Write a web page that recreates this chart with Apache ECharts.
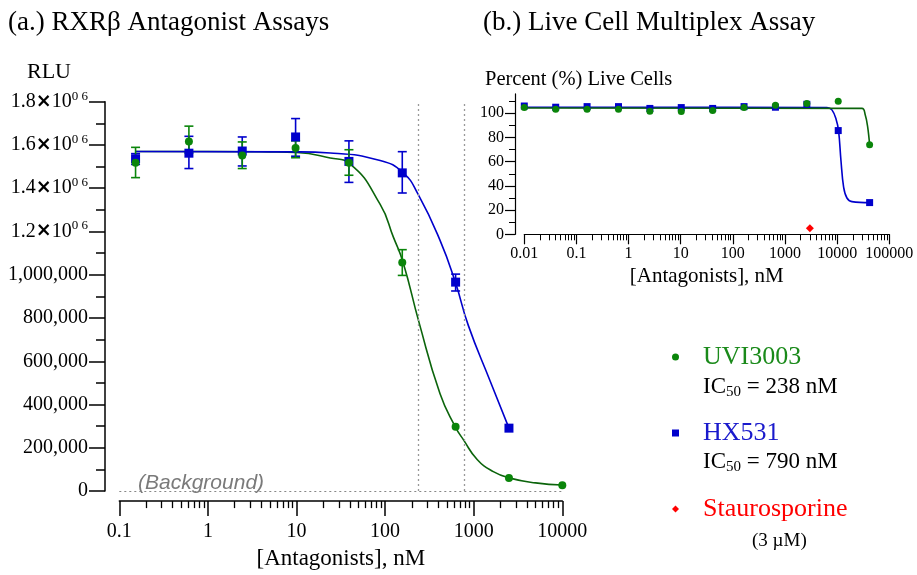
<!DOCTYPE html>
<html><head><meta charset="utf-8">
<script src="https://cdn.jsdelivr.net/npm/echarts@6/dist/echarts.min.js"></script>
<style>html,body{margin:0;padding:0;background:#fff}#c{width:917px;height:575px}</style>
</head><body><div id="c"></div>
<script>
// ---------- (a.) RXRbeta antagonist assay ----------
const rlu_conc = [0.1526, 0.6104, 2.441, 9.766, 39.06, 156.25, 625, 2500, 10000];
const uvi_rlu  = [1518000, 1616000, 1551000, 1586000, 1518000, 1057000, 297000, 60000, 27000];
const uvi_lo   = [1449000, 1563000, 1491000, 1541000, 1460000, 997000, null, null, null];
const uvi_hi   = [1589000, 1687000, 1614000, 1619000, 1578000, 1116000, null, null, null];
const hx_conc  = [0.1526, 0.6104, 2.441, 9.766, 39.06, 156.25, 625, 2500];
const hx_rlu   = [1536000, 1562000, 1572000, 1637000, 1524000, 1471000, 966000, 291000];
const hx_lo    = [1510000, 1491000, 1503000, 1548000, 1427000, 1378000, 925000, null];
const hx_hi    = [1560000, 1640000, 1637000, 1722000, 1619000, 1569000, 1003000, null];
// fitted curves
const uviFit_x = [0.1526, 1, 5, 10, 24, 40, 88, 124, 160, 241, 417, 620, 764, 1100, 1664, 2560, 5000, 10000];
const uviFit_y = [1570000, 1570000, 1568000, 1565000, 1540000, 1513000, 1325000, 1174000, 1056000, 781000, 450000, 297000, 238000, 145000, 90000, 60000, 38000, 28000];
const hxFit_x  = [0.1526, 10, 24, 88, 160, 237, 417, 620, 869, 1528, 2500];
const hxFit_y  = [1570000, 1568000, 1563000, 1528000, 1471000, 1370000, 1159000, 966000, 766000, 510000, 291000];
const ic50_lines = [238, 790];
const background_level = 0;
const rluTicks = [0, 200000, 400000, 600000, 800000, 1000000, 1200000, 1400000, 1600000, 1800000];
const rluMinor = [100000, 300000, 500000, 700000, 900000, 1100000, 1300000, 1500000, 1700000];

// ---------- (b.) live cell multiplex ----------
const live_conc = [0.01, 0.04, 0.16, 0.64, 2.56, 10.24, 40.96, 163.84, 655.36, 2621.44, 10485.76, 41943.04];
const hx_live   = [106, 105, 105.5, 105.5, 104, 104.7, 104, 105.5, 105, 107.4, 85.7, 26.2];
const uvi_live  = [104.7, 103.3, 103.3, 103.3, 101.7, 101.4, 102.2, 104.7, 106.6, 108, 110, 74];
const hxLiveFit_x  = [0.01, 6370, 7940, 9620, 10640, 11830, 13300, 15400, 19200, 41943.04];
const hxLiveFit_y  = [105, 104.7, 102.8, 94.5, 85.7, 61, 39, 30, 27, 26.2];
const uviLiveFit_x = [0.01, 29900, 34600, 38400, 41943.04];
const uviLiveFit_y = [104.3, 104, 98.6, 89, 74];
const stauro_conc = [3000];
const stauro_live = [5];
const liveTicks = [0, 20, 40, 60, 80, 100];
const liveMinor = [10, 30, 50, 70, 90, 110];

// minor tick positions (2..9 x each decade), in log10 units for a helper tick-only axis
function minorLog10(fromExp, toExp) {
  const out = [];
  for (let e = fromExp; e < toExp; e++) for (let k = 2; k <= 9; k++) out.push(e + Math.log10(k));
  return out;
}
const zip = (a, b) => a.map((v, i) => [v, b[i]]);
const bars = (x, lo, hi) => x.map((v, i) => [v, lo[i], hi[i]]).filter(r => r[1] != null);

const SERIF = "'Liberation Serif', 'Times New Roman', serif";
const GREEN = '#0a850a', GREENLINE = '#0b640b', BLUE = '#0000cc', RED = '#ff0000';

function errRender(color) {
  return function (params, api) {
    const x = api.value(0);
    const a = api.coord([x, api.value(1)]);
    const b = api.coord([x, api.value(2)]);
    const w = 4.5;
    const st = { stroke: color, lineWidth: 1.6 };
    return { type: 'group', children: [
      { type: 'line', shape: { x1: a[0], y1: a[1], x2: b[0], y2: b[1] }, style: st },
      { type: 'line', shape: { x1: a[0] - w, y1: a[1], x2: a[0] + w, y2: a[1] }, style: st },
      { type: 'line', shape: { x1: b[0] - w, y1: b[1], x2: b[0] + w, y2: b[1] }, style: st }
    ]};
  };
}

const chart = echarts.init(document.getElementById('c'), null, { renderer: 'canvas' });
const line = (w) => ({ show: true, onZero: false, lineStyle: { color: '#000', width: w } });
const noLine = { show: false, onZero: false };
const subRich = { sub: { fontSize: 15, fontFamily: SERIF, verticalAlign: 'bottom', lineHeight: 14 } };

const option = {
  animation: false,
  backgroundColor: '#fff',
  textStyle: { fontFamily: SERIF, color: '#000' },
  grid: [
    { left: 119.3, right: 354.7, top: 101.7, bottom: 75.7 },
    { left: 524.3, right: 27.7, top: 93.9, bottom: 340.7 }
  ],
  xAxis: [
    { type: 'log', gridIndex: 0, min: 0.1, max: 10000, logBase: 10, offset: 10, position: 'bottom',
      axisLine: line(1.5), splitLine: { show: false },
      axisTick: { show: true, length: 15, lineStyle: { color: '#000', width: 1.5 } },
      axisLabel: { fontSize: 20, fontFamily: SERIF, color: '#000', margin: 21, formatter: v => String(v) },
      name: '[Antagonists], nM', nameLocation: 'middle', nameGap: 42,
      nameTextStyle: { fontSize: 23, fontFamily: SERIF, color: '#000' } },
    { type: 'value', gridIndex: 0, min: -1, max: 4, offset: 10, position: 'bottom',
      axisLine: noLine, splitLine: { show: false }, axisLabel: { show: false },
      axisTick: { show: true, length: 7, customValues: minorLog10(-1, 4), lineStyle: { color: '#000', width: 1.3 } } },
    { type: 'log', gridIndex: 1, min: 0.01, max: 100000, logBase: 10, offset: 0, position: 'bottom',
      axisLine: line(1.2), splitLine: { show: false },
      axisTick: { show: true, length: 10, lineStyle: { color: '#000', width: 1.2 } },
      axisLabel: { fontSize: 16, fontFamily: SERIF, color: '#000', margin: 11, formatter: v => String(v) },
      name: '[Antagonists], nM', nameLocation: 'middle', nameGap: 32,
      nameTextStyle: { fontSize: 21, fontFamily: SERIF, color: '#000' } },
    { type: 'value', gridIndex: 1, min: -2, max: 5, offset: 0, position: 'bottom',
      axisLine: noLine, splitLine: { show: false }, axisLabel: { show: false },
      axisTick: { show: true, length: 6, customValues: minorLog10(-2, 5), lineStyle: { color: '#000', width: 1 } } }
  ],
  yAxis: [
    { type: 'value', gridIndex: 0, min: 0, max: 1800000, interval: 200000, offset: 14.3, position: 'left',
      axisLine: line(1.5), splitLine: { show: false },
      axisTick: { show: true, length: 16, customValues: rluTicks, lineStyle: { color: '#000', width: 1.5 } },
      axisLabel: { customValues: rluTicks, fontSize: 20, fontFamily: SERIF, color: '#000', margin: 17, lineHeight: 24,
        formatter: v => v >= 1200000 ? (v / 1e6).toFixed(1) + '{x|×}10{s|0 6}' : v.toLocaleString('en-US'),
        rich: {
          x: { fontSize: 19, fontWeight: 'bold', fontFamily: 'DejaVu Sans', color: '#000', lineHeight: 24 },
          s: { fontSize: 13, fontFamily: SERIF, color: '#000', verticalAlign: 'top', lineHeight: 13 }
        } } },
    { type: 'value', gridIndex: 0, min: 0, max: 1800000, interval: 200000, offset: 14.3, position: 'left',
      axisLine: noLine, splitLine: { show: false }, axisLabel: { show: false },
      axisTick: { show: true, length: 9, customValues: rluMinor, lineStyle: { color: '#000', width: 1.5 } } },
    { type: 'value', gridIndex: 1, min: 0, max: 116, offset: 9.3, position: 'left',
      axisLine: line(1.2), splitLine: { show: false },
      axisTick: { show: true, length: 10, customValues: liveTicks, lineStyle: { color: '#000', width: 1.2 } },
      axisLabel: { customValues: liveTicks, fontSize: 16, fontFamily: SERIF, color: '#000', margin: 11 } },
    { type: 'value', gridIndex: 1, min: 0, max: 116, offset: 9.3, position: 'left',
      axisLine: noLine, splitLine: { show: false }, axisLabel: { show: false },
      axisTick: { show: true, length: 6, customValues: liveMinor, lineStyle: { color: '#000', width: 1 } } }
  ],
  legend: {
    orient: 'vertical', left: 667, top: 338, itemGap: 48, itemWidth: 7, itemHeight: 7,
    selectedMode: false,
    textStyle: { fontSize: 26, fontFamily: SERIF, lineHeight: 28, padding: [0, 0, 0, 19] },
    data: [
      { name: 'UVI3003', icon: 'circle', itemStyle: { opacity: 1 }, textStyle: { color: '#1a8a1a' } },
      { name: 'HX531', icon: 'rect', itemStyle: { opacity: 1 }, textStyle: { color: '#1a1acc' } },
      { name: 'Staurosporine', icon: 'diamond', itemStyle: { opacity: 1 }, textStyle: { color: RED } }
    ]
  },
  series: [
    // left chart
    { name: 'UVI3003 fit', type: 'line', xAxisIndex: 0, yAxisIndex: 0, data: zip(uviFit_x, uviFit_y),
      showSymbol: false, smooth: 0.5, lineStyle: { color: GREENLINE, width: 1.6 }, z: 2,
      markLine: { silent: true, symbol: 'none', label: { show: false },
        lineStyle: { color: '#999', type: [2, 3], width: 1.3 },
        data: ic50_lines.map(v => ({ xAxis: v })) } },
    { name: 'HX531 fit', type: 'line', xAxisIndex: 0, yAxisIndex: 0, data: zip(hxFit_x, hxFit_y),
      showSymbol: false, smooth: 0.5, lineStyle: { color: BLUE, width: 1.6 }, z: 2,
      markLine: { silent: true, symbol: 'none', label: { show: false },
        lineStyle: { color: '#888', type: [2, 3], width: 1.2 },
        data: [{ yAxis: background_level }] } },
    { name: 'HX531 err', type: 'custom', xAxisIndex: 0, yAxisIndex: 0, data: bars(hx_conc, hx_lo, hx_hi),
      renderItem: errRender(BLUE), z: 3, encode: { x: 0, y: [1, 2] } },
    { name: 'UVI3003 err', type: 'custom', xAxisIndex: 0, yAxisIndex: 0, data: bars(rlu_conc, uvi_lo, uvi_hi),
      renderItem: errRender(GREEN), z: 3, encode: { x: 0, y: [1, 2] } },
    { name: 'HX531', type: 'scatter', xAxisIndex: 0, yAxisIndex: 0, data: zip(hx_conc, hx_rlu),
      symbol: 'rect', symbolSize: 9, itemStyle: { color: BLUE, opacity: 1 }, z: 4 },
    { name: 'UVI3003', type: 'scatter', xAxisIndex: 0, yAxisIndex: 0, data: zip(rlu_conc, uvi_rlu),
      symbol: 'circle', symbolSize: 8, itemStyle: { color: GREEN, opacity: 1 }, z: 5 },
    // right chart
    { name: 'HX531 live fit', type: 'line', xAxisIndex: 2, yAxisIndex: 2, data: zip(hxLiveFit_x, hxLiveFit_y),
      showSymbol: false, smooth: 0.4, lineStyle: { color: BLUE, width: 1.6 }, z: 2 },
    { name: 'UVI3003 live fit', type: 'line', xAxisIndex: 2, yAxisIndex: 2, data: zip(uviLiveFit_x, uviLiveFit_y),
      showSymbol: false, smooth: 0.4, lineStyle: { color: GREENLINE, width: 1.6 }, z: 2 },
    { name: 'HX531', type: 'scatter', xAxisIndex: 2, yAxisIndex: 2, data: zip(live_conc, hx_live),
      symbol: 'rect', symbolSize: 7, itemStyle: { color: BLUE, opacity: 1 }, z: 4 },
    { name: 'UVI3003', type: 'scatter', xAxisIndex: 2, yAxisIndex: 2, data: zip(live_conc, uvi_live),
      symbol: 'circle', symbolSize: 7, itemStyle: { color: GREEN, opacity: 1 }, z: 5 },
    { name: 'Staurosporine', type: 'scatter', xAxisIndex: 2, yAxisIndex: 2, data: zip(stauro_conc, stauro_live),
      symbol: 'diamond', symbolSize: 8, itemStyle: { color: RED, opacity: 1 }, z: 5 }
  ],
  graphic: [
    { type: 'text', x: 8, y: 23, style: { text: '(a.) RXRβ Antagonist Assays', font: "27px " + SERIF, fill: '#000', verticalAlign: 'middle' } },
    { type: 'text', x: 483, y: 23, style: { text: '(b.) Live Cell Multiplex Assay', font: "27px " + SERIF, fill: '#000', verticalAlign: 'middle' } },
    { type: 'text', x: 27, y: 72, style: { text: 'RLU', font: "22px " + SERIF, fill: '#000', verticalAlign: 'middle' } },
    { type: 'text', x: 485, y: 80, style: { text: 'Percent (%) Live Cells', font: "20.5px " + SERIF, fill: '#000', verticalAlign: 'middle' } },
    { type: 'text', x: 138, y: 483, style: { text: '(Background)', font: "italic 21px 'Liberation Sans', Arial, sans-serif", fill: '#7a7a7a', verticalAlign: 'middle' } },
    { type: 'text', x: 703, y: 387, style: { text: 'IC{sub|50} = 238 nM', font: "23px " + SERIF, fill: '#000', verticalAlign: 'middle', lineHeight: 26, rich: subRich } },
    { type: 'text', x: 703, y: 462, style: { text: 'IC{sub|50} = 790 nM', font: "23px " + SERIF, fill: '#000', verticalAlign: 'middle', lineHeight: 26, rich: subRich } },
    { type: 'text', x: 752, y: 541, style: { text: '(3 µM)', font: "19px " + SERIF, fill: '#000', verticalAlign: 'middle' } }
  ]
};
chart.setOption(option);
</script>
</body></html>
